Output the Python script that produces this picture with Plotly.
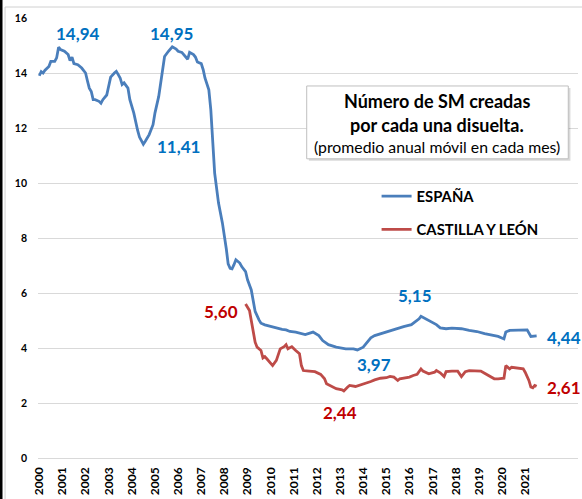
import plotly.graph_objects as go

# ---------------- data ----------------
esp_dates = ["2000-01","2000-02","2000-03","2000-04","2000-06","2000-07","2000-09","2000-10","2000-11","2000-12",
             "2001-02","2001-04","2001-05","2001-06","2001-07","2001-09","2001-11",
             "2002-01","2002-02","2002-03","2002-04","2002-05","2002-06","2002-08","2002-09","2002-10","2002-12",
             "2003-01","2003-02","2003-04","2003-05","2003-06","2003-07","2003-08","2003-09","2003-11","2003-12",
             "2004-02","2004-03","2004-04","2004-05","2004-07","2004-08","2004-10","2004-12",
             "2005-01","2005-03","2005-04","2005-05","2005-06","2005-08","2005-10","2005-12",
             "2006-01","2006-03","2006-05","2006-06","2006-07","2006-09","2006-10","2006-11",
             "2007-01","2007-02","2007-03","2007-05","2007-06","2007-07","2007-08","2007-10","2007-12",
             "2008-02","2008-03","2008-04","2008-05","2008-06","2008-07","2008-09","2008-10","2008-12",
             "2009-01","2009-03","2009-04","2009-05","2009-07","2009-08","2009-10","2009-12",
             "2010-02","2010-04","2010-05","2010-07","2010-09","2010-11",
             "2011-02","2011-07","2011-11",
             "2012-02","2012-04","2012-07","2012-11",
             "2013-04","2013-08","2013-10",
             "2014-01","2014-03","2014-05","2014-07","2014-10",
             "2015-01","2015-04","2015-07","2015-10",
             "2016-02","2016-04","2016-06","2016-07","2016-09","2016-12",
             "2017-03","2017-05","2017-08","2017-11",
             "2018-04","2018-08","2018-12",
             "2019-04","2019-08","2019-11",
             "2020-02","2020-03","2020-05","2020-08","2020-12",
             "2021-02","2021-04","2021-06","2021-07"]
esp_values = [13.90,14.05,14.00,14.10,14.24,14.42,14.42,14.55,14.94,14.85,
              14.79,14.67,14.45,14.58,14.34,14.30,14.18,
              14.00,13.70,13.45,13.33,13.03,13.03,12.97,12.90,13.03,13.20,
              13.50,13.85,14.00,14.06,13.94,13.82,13.58,13.64,13.45,13.03,
              12.55,12.18,11.92,11.67,11.41,11.52,11.76,12.12,
              12.55,13.15,13.64,14.30,14.60,14.79,14.95,14.87,
              14.79,14.75,14.60,14.50,14.75,14.67,14.58,14.40,
              14.34,14.12,13.82,13.39,12.67,11.58,10.36,9.27,8.55,
              7.60,7.06,6.90,6.88,7.03,7.21,7.09,6.96,6.78,
              6.48,6.11,5.69,5.33,5.02,4.90,4.84,4.80,
              4.78,4.72,4.72,4.68,4.66,4.60,
              4.58,4.49,4.58,
              4.45,4.27,4.12,4.03,
              3.97,3.97,3.93,
              4.03,4.21,4.37,4.45,4.52,
              4.60,4.64,4.72,4.78,
              4.85,4.94,5.06,5.15,5.08,4.96,
              4.85,4.73,4.70,4.72,
              4.70,4.64,4.60,
              4.52,4.45,4.42,
              4.33,4.58,4.64,4.64,4.64,
              4.66,4.42,4.42,4.44]

cyl_dates = ["2008-12","2009-02","2009-03","2009-04","2009-05","2009-06","2009-08","2009-09","2009-10","2009-11",
             "2010-01","2010-02","2010-04","2010-05","2010-06","2010-08","2010-09","2010-10","2010-12",
             "2011-02","2011-04","2011-05","2011-06","2011-09","2011-12",
             "2012-03","2012-05","2012-06","2012-09","2012-11",
             "2013-02","2013-03","2013-05","2013-06","2013-09","2013-11",
             "2014-02","2014-05","2014-07","2014-10",
             "2015-01","2015-03","2015-05","2015-07","2015-08","2015-10",
             "2016-01","2016-03","2016-05","2016-07","2016-08","2016-11",
             "2017-02","2017-03","2017-05","2017-07","2017-08","2017-11",
             "2018-02","2018-04","2018-06","2018-08","2018-11",
             "2019-02","2019-04","2019-07","2019-09","2019-11",
             "2020-02","2020-03","2020-05","2020-06","2020-09","2020-12",
             "2021-01","2021-03","2021-04","2021-05","2021-06","2021-07"]
cyl_values = [5.60,5.36,5.00,4.64,4.21,4.03,3.91,3.64,3.69,3.61,
              3.45,3.36,3.55,3.79,3.97,4.05,4.12,3.97,4.05,
              3.91,3.79,3.36,3.18,3.16,3.14,
              3.04,2.88,2.70,2.58,2.52,
              2.48,2.44,2.58,2.64,2.60,2.64,
              2.70,2.78,2.84,2.90,
              2.92,2.97,2.94,2.82,2.88,2.90,
              2.94,3.00,3.04,3.24,3.16,3.06,
              3.12,3.18,3.10,2.96,3.14,3.16,
              3.16,2.96,3.14,3.18,3.16,
              3.16,3.08,2.96,2.88,2.88,
              2.90,3.36,3.24,3.30,3.28,3.24,
              3.12,2.82,2.58,2.55,2.64,2.61]

years = [str(y) for y in range(2000, 2022)]

# highlighted values (value, label anchor date, label anchor y)
esp_labels = [(14.94, "2001-09-01", 15.44), (14.95, "2005-09-20", 15.44), (11.41, "2006-01-01", 11.34),
              (5.15, "2016-03-28", 5.91), (3.97, "2014-06-25", 3.39), (4.44, "2022-09-01", 4.37)]
cyl_labels = [(5.60, "2007-11-05", 5.34), (2.44, "2013-01-05", 1.67), (2.61, "2022-09-01", 2.57)]

BLUE = "#4A7EBB"
RED = "#BE4B48"
BLUE_T = "#0070C0"
RED_T = "#C00000"
FONT = "Lato"

fig = go.Figure()
fig.add_trace(go.Scatter(x=esp_dates, y=esp_values, mode="lines", name="ESPAÑA",
                         line=dict(color=BLUE, width=2.8), legendgroup="a"))
fig.add_trace(go.Scatter(x=cyl_dates, y=cyl_values, mode="lines", name="CASTILLA Y LEÓN",
                         line=dict(color=RED, width=2.8), legendgroup="b"))

def fmt(v):
    return f"{v:.2f}".replace(".", ",")

ann = []
for v, xd, yv in esp_labels:
    ann.append(dict(x=xd, y=yv, xref="x", yref="y", text=fmt(v), showarrow=False,
                    xanchor="center", yanchor="middle",
                    font=dict(family=FONT, size=17, color=BLUE_T, weight="bold")))
for v, xd, yv in cyl_labels:
    ann.append(dict(x=xd, y=yv, xref="x", yref="y", text=fmt(v), showarrow=False,
                    xanchor="center", yanchor="middle",
                    font=dict(family=FONT, size=17, color=RED_T, weight="bold")))

# title box text
ann.append(dict(x=0.7395, y=0.812, xref="paper", yref="paper", text="Número de SM creadas", showarrow=False,
                xanchor="center", yanchor="middle",
                font=dict(family=FONT, size=18, color="#000000", weight="bold")))
ann.append(dict(x=0.7395, y=0.757, xref="paper", yref="paper", text="por cada una disuelta.", showarrow=False,
                xanchor="center", yanchor="middle",
                font=dict(family=FONT, size=18, color="#000000", weight="bold")))
ann.append(dict(x=0.7395, y=0.707, xref="paper", yref="paper", text="(promedio anual móvil en cada mes)",
                showarrow=False, xanchor="center", yanchor="middle",
                font=dict(family=FONT, size=15.8, color="#000000")))

shapes = [
    # shadow + box
    dict(type="rect", xref="paper", yref="paper", x0=0.5016, x1=0.986, y0=0.6755, y1=0.841,
         fillcolor="rgba(0,0,0,0.15)", line=dict(width=0), layer="above"),
    dict(type="rect", xref="paper", yref="paper", x0=0.4976, x1=0.982, y0=0.680, y1=0.8455,
         fillcolor="white", line=dict(color="#BFBFBF", width=1), layer="above"),
    # outer frame bits
    dict(type="line", xref="paper", yref="paper", x0=-0.0685, x1=-0.0685, y0=-0.1, y1=1.1,
         line=dict(color="#000000", width=3)),
    dict(type="line", xref="paper", yref="paper", x0=-0.061, x1=-0.061, y0=-0.1, y1=1.025,
         line=dict(color="#D0D0D0", width=1)),
    dict(type="line", xref="paper", yref="paper", x0=-0.061, x1=1.01, y0=1.025, y1=1.025,
         line=dict(color="#D0D0D0", width=1)),
]

fig.update_layout(
    width=582, height=499, autosize=False,
    margin=dict(l=38, r=4, t=18, b=41, pad=0),
    paper_bgcolor="white", plot_bgcolor="white",
    font=dict(family=FONT, color="#000000"),
    showlegend=True,
    legend=dict(x=0.627, y=0.632, xanchor="left", yanchor="top", bgcolor="rgba(0,0,0,0)",
                font=dict(family=FONT, size=14.8, color="#000000", weight="bold"),
                tracegroupgap=11, itemwidth=30),
    annotations=ann, shapes=shapes,
)
fig.update_xaxes(type="date", range=["1999-12-12", "2023-04-15"],
                 tickvals=[f"{y}-01-01" for y in years], ticktext=years, tickangle=-90,
                 tickfont=dict(family=FONT, size=12, color="#000000", weight="bold"),
                 showgrid=False, showline=False, zeroline=False, ticks="", ticklabelstandoff=6)
fig.update_yaxes(range=[0, 16], dtick=2, tick0=0, showgrid=True, gridcolor="#D9D9D9", gridwidth=1,
                 zeroline=True, zerolinecolor="#D9D9D9", zerolinewidth=1, showline=False,
                 tickfont=dict(family=FONT, size=10.5, color="#000000", weight="bold"),
                 ticks="", ticklabelstandoff=10)

fig.write_html("out.html", config={"displayModeBar": False},
               post_script="document.body.style.margin='0px';document.body.style.overflow='hidden';")
